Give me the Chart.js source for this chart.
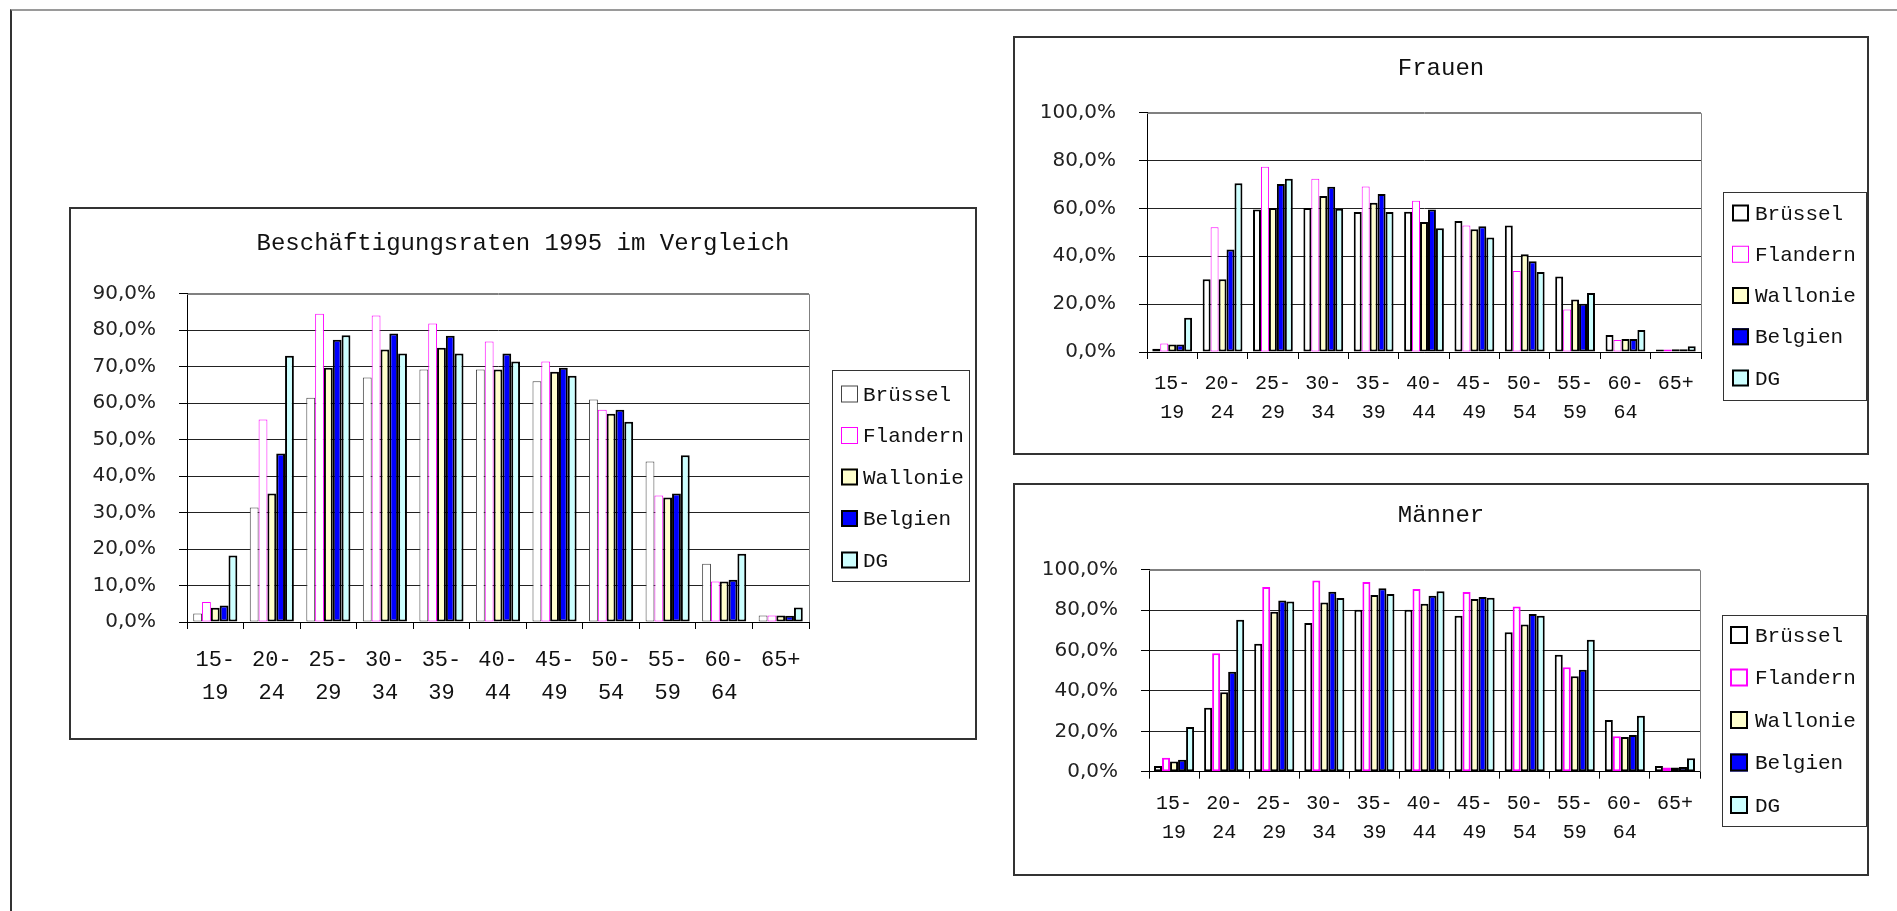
<!DOCTYPE html>
<html><head><meta charset="utf-8">
<script src="https://cdn.jsdelivr.net/npm/chart.js@4.4.1/dist/chart.umd.min.js"></script>
<style>
html,body{margin:0;padding:0;background:#fff;width:1897px;height:911px;overflow:hidden}
.frame{position:absolute;left:10px;top:9px;width:1900px;height:910px;border-top:2px solid #9a9a9a;border-left:2px solid #333}
canvas{position:absolute}
.box{position:absolute;box-sizing:border-box;border:2px solid #333;pointer-events:none}
</style></head><body>
<div class="frame"></div>
<canvas id="cTotal" width="908" height="533" style="left:69px;top:207px"></canvas>
<div class="box" style="left:69px;top:207px;width:908px;height:533px"></div>
<canvas id="cFrauen" width="856" height="419" style="left:1013px;top:36px"></canvas>
<div class="box" style="left:1013px;top:36px;width:856px;height:419px"></div>
<canvas id="cMaenner" width="856" height="393" style="left:1013px;top:483px"></canvas>
<div class="box" style="left:1013px;top:483px;width:856px;height:393px"></div>
<script>
// ---- data ----
const categories = [["15-","19"],["20-","24"],["25-","29"],["30-","34"],["35-","39"],["40-","44"],["45-","49"],["50-","54"],["55-","59"],["60-","64"],["65+"]];
const seriesNames = ["Brüssel","Flandern","Wallonie","Belgien","DG"];

const titleTotal = "Beschäftigungsraten 1995 im Vergleich";
const titleFrauen = "Frauen";
const titleMaenner = "Männer";

const totalBruessel = [2.3,31.4,61.5,67.0,69.2,69.2,66.0,61.0,44.0,16.0,1.8];
const totalFlandern = [5.5,55.5,84.5,84.0,81.8,76.9,71.4,58.2,34.7,11.1,1.8];
const totalWallonie = [3.9,35.2,69.7,74.7,75.2,69.2,68.6,57.1,34.1,11.1,1.8];
const totalBelgien  = [4.5,46.2,77.4,79.1,78.5,73.6,69.7,58.2,35.2,11.6,1.7];
const totalDG       = [18.2,73.0,78.6,73.6,73.6,71.4,67.5,54.9,45.7,18.7,4.0];

const frauenBruessel = [1.4,30.4,59.6,60.2,58.5,58.6,54.7,52.9,31.5,7.1,1.0];
const frauenFlandern = [3.6,52.1,77.4,72.4,69.2,63.2,52.9,33.8,17.8,5.0,1.0];
const frauenWallonie = [3.1,30.4,60.2,65.2,62.4,54.3,51.3,40.9,21.9,5.4,1.1];
const frauenBelgien  = [3.1,42.8,70.2,69.1,66.0,59.6,52.6,37.9,20.2,5.4,1.1];
const frauenDG       = [14.3,70.5,72.4,59.9,58.5,51.7,47.9,33.4,24.7,9.2,2.4];

const maennerBruessel = [2.8,31.7,63.4,73.6,80.2,80.2,77.2,69.0,57.9,25.6,2.8];
const maennerFlandern = [6.9,58.7,91.4,94.7,93.9,90.4,88.9,81.8,51.7,17.5,2.1];
const maennerWallonie = [5.0,39.3,79.2,83.8,87.5,83.2,85.5,72.9,47.2,17.2,2.1];
const maennerBelgien  = [5.9,49.5,84.8,89.1,90.8,87.1,86.5,78.1,50.5,18.2,2.3];
const maennerDG       = [22.1,75.2,84.2,86.0,88.0,89.3,86.1,77.2,65.3,27.7,6.6];

// ---- styling ----
const fills = ["#ffffff","#ffffff","#ffffcc","#0000ff","#ccffff"];
const MONO = "'Liberation Mono', 'Courier New', monospace";
const SANS = "'DejaVu Sans', Verdana, sans-serif";

const boxLegend = {
  id: 'boxLegend',
  afterDraw(chart, args, o) {
    const ctx = chart.ctx;
    ctx.save();
    ctx.lineWidth = 1;
    ctx.strokeStyle = '#333';
    ctx.strokeRect(o.x + 0.5, o.y + 0.5, o.w, o.h);
    chart.data.datasets.forEach((ds, i) => {
      const cy = o.row0 + i * o.gap;
      const bw = ds.borderWidth;
      ctx.fillStyle = ds.backgroundColor;
      ctx.fillRect(o.sqX, cy - o.sq / 2, o.sq, o.sq);
      ctx.lineWidth = bw;
      ctx.strokeStyle = ds.borderColor;
      ctx.strokeRect(o.sqX + bw / 2, cy - o.sq / 2 + bw / 2, o.sq - bw, o.sq - bw);
      ctx.fillStyle = '#111';
      ctx.font = o.fontSize + 'px ' + MONO;
      ctx.textBaseline = 'middle';
      ctx.textAlign = 'left';
      ctx.fillText(ds.label, o.txtX, cy + 1);
    });
    ctx.restore();
  }
};

const plotFrame = {
  id: 'plotFrame',
  beforeDatasetsDraw(chart) {
    const a = chart.chartArea, ctx = chart.ctx;
    ctx.save();
    ctx.strokeStyle = '#808080';
    ctx.lineWidth = 1;
    ctx.beginPath();
    ctx.moveTo(a.left, Math.round(a.top) + 0.5);
    ctx.lineTo(Math.round(a.right) + 0.5, Math.round(a.top) + 0.5);
    ctx.lineTo(Math.round(a.right) + 0.5, a.bottom);
    ctx.stroke();
    ctx.restore();
  }
};

function makeChart(id, cfg) {
  const datasets = seriesNames.map((name, i) => ({
    label: name,
    data: cfg.values[i],
    backgroundColor: fills[i],
    borderColor: cfg.borderColors[i],
    borderWidth: cfg.borderWidths[i],
    borderSkipped: false,
    barPercentage: 1,
    categoryPercentage: cfg.catPct
  }));
  return new Chart(document.getElementById(id), {
    type: 'bar',
    data: { labels: categories, datasets },
    options: {
      responsive: false,
      animation: false,
      devicePixelRatio: 1,
      layout: { padding: 0 },
      plugins: {
        legend: { display: false },
        tooltip: { enabled: false },
        title: {
          display: true,
          text: cfg.title,
          color: '#111',
          font: { family: MONO, size: 24, weight: 'normal', lineHeight: 1.2 },
          padding: { top: cfg.titleTop, bottom: cfg.titleBottom }
        },
        boxLegend: cfg.legend
      },
      scales: {
        x: {
          offset: true,
          afterFit(s) { s.height = cfg.xHeight; },
          grid: { offset: true, drawOnChartArea: false, drawTicks: true, tickLength: 7, color: '#000' },
          border: { color: '#000', width: 1 },
          ticks: {
            autoSkip: false, maxRotation: 0, minRotation: 0,
            padding: cfg.xPad, color: '#111',
            font: { family: MONO, size: cfg.xFont, lineHeight: cfg.xLine }
          }
        },
        y: {
          min: 0, max: cfg.yMax,
          afterFit(s) { s.width = cfg.yWidth; },
          grid: {
            color: (c) => (c.tick && c.tick.value === cfg.yMax) ? '#808080' : '#222',
            tickColor: '#000', tickLength: 8, lineWidth: 1
          },
          border: { color: '#000', width: 1 },
          ticks: {
            stepSize: cfg.yStep, padding: 23, color: '#222',
            font: { family: SANS, size: 20 },
            callback: (v) => v.toFixed(1).replace('.', ',') + '%'
          }
        },
        legendSpace: {
          type: 'linear', position: 'right', display: true,
          afterFit(s) { s.width = cfg.padRight; },
          grid: { display: false, drawTicks: false },
          border: { display: false },
          ticks: { display: false }
        }
      }
    },
    plugins: [plotFrame, boxLegend]
  });
}

makeChart('cTotal', {
  title: titleTotal,
  values: [totalBruessel, totalFlandern, totalWallonie, totalBelgien, totalDG],
  borderColors: ['#444', '#ff00ff', '#000', '#000', '#000'],
  borderWidths: [1, 1, 2, 2, 2],
  catPct: 0.78, padRight: 168, titleTop: 22.6, titleBottom: 35.3,
  xHeight: 118, yWidth: 118, xPad: 14.5, xFont: 22, xLine: 1.5,
  yMax: 90, yStep: 10,
  legend: { x: 763, y: 163, w: 137, h: 211, sqX: 772, sq: 17, txtX: 794, row0: 187, gap: 41.5, fontSize: 21 }
});

makeChart('cFrauen', {
  title: titleFrauen,
  values: [frauenBruessel, frauenFlandern, frauenWallonie, frauenBelgien, frauenDG],
  borderColors: ['#000', '#ff00ff', '#000', '#000', '#000'],
  borderWidths: [2, 1, 2, 2, 2],
  catPct: 0.79, padRight: 168, titleTop: 18.6, titleBottom: 29.3,
  xHeight: 103, yWidth: 134, xPad: 10, xFont: 20, xLine: 1.45,
  yMax: 100, yStep: 20,
  legend: { x: 710, y: 156, w: 143, h: 208, sqX: 719, sq: 17, txtX: 742, row0: 177, gap: 41.25, fontSize: 21 }
});

makeChart('cMaenner', {
  title: titleMaenner,
  values: [maennerBruessel, maennerFlandern, maennerWallonie, maennerBelgien, maennerDG],
  borderColors: ['#000', '#ff00ff', '#000', '#000', '#000'],
  borderWidths: [2, 2, 2, 2, 2],
  catPct: 0.80, padRight: 169, titleTop: 18.6, titleBottom: 39.3,
  xHeight: 104.3, yWidth: 136, xPad: 10.8, xFont: 20, xLine: 1.45,
  yMax: 100, yStep: 20,
  legend: { x: 709, y: 132, w: 144, h: 211, sqX: 717, sq: 18, txtX: 742, row0: 152, gap: 42.5, fontSize: 21 }
});
</script>
</body></html>
